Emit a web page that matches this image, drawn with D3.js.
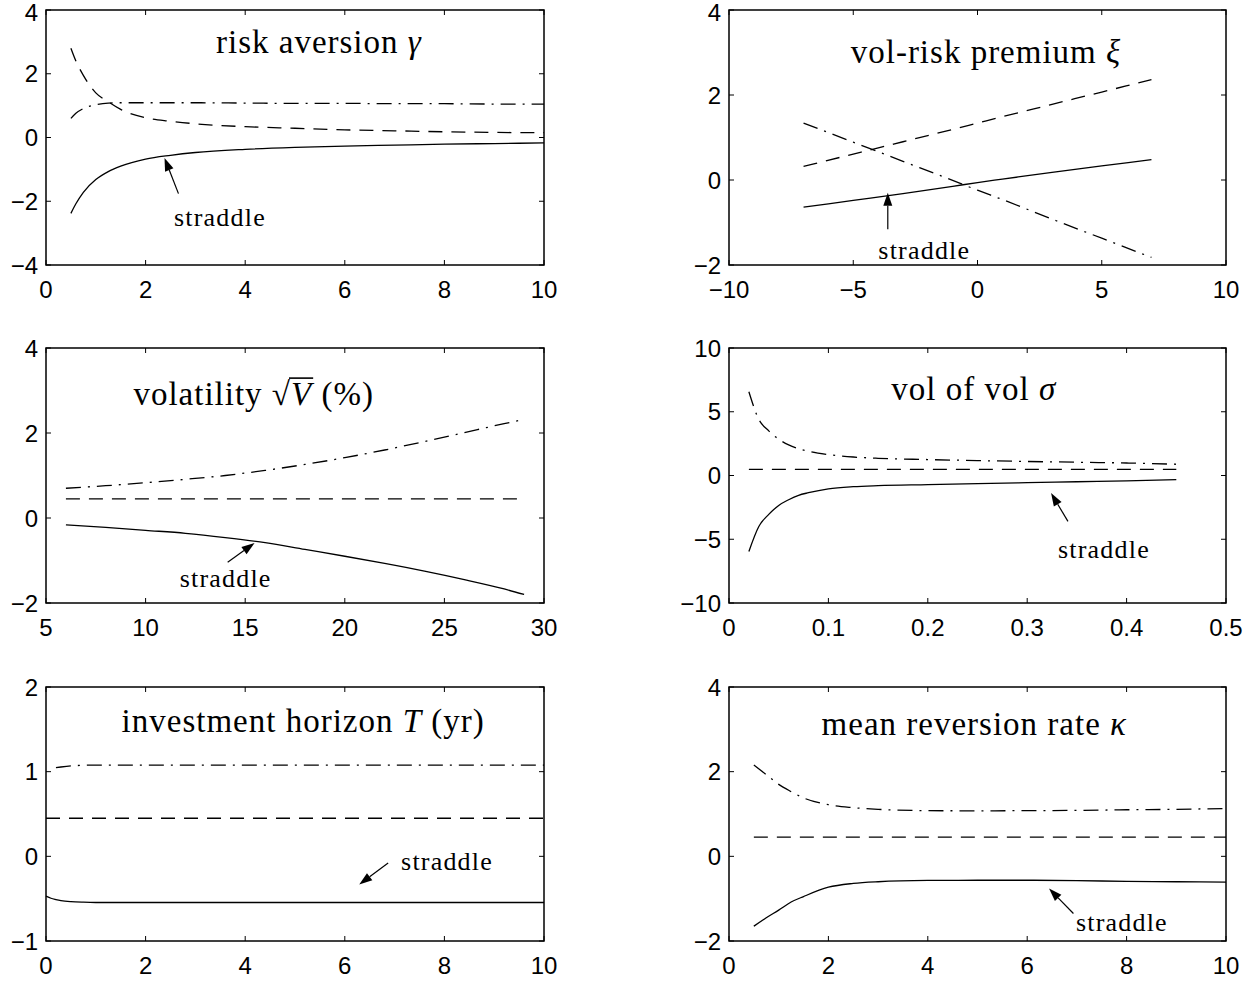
<!DOCTYPE html>
<html><head><meta charset="utf-8">
<script src="https://cdn.jsdelivr.net/npm/d3@7"></script>
<style>body{margin:0;background:#fff}svg{display:block}</style>
</head><body><svg id="c" width="1256" height="981"></svg>
<script>
// ---------- Panel 1: risk aversion gamma ----------
const p1X        = [0.5, 0.6, 0.75, 1, 1.25, 1.5, 2, 2.5, 3, 4, 5, 6, 7, 8, 9, 10];
const p1Straddle = [-2.38, -2.08, -1.72, -1.32, -1.07, -0.90, -0.68, -0.56, -0.47, -0.37, -0.31, -0.27, -0.24, -0.21, -0.19, -0.17];
const p1Dashed   = [2.80, 2.40, 1.95, 1.40, 1.12, 0.88, 0.62, 0.51, 0.43, 0.34, 0.29, 0.24, 0.21, 0.18, 0.16, 0.15];
const p1DashDot  = [0.60, 0.76, 0.91, 1.03, 1.08, 1.09, 1.09, 1.09, 1.09, 1.08, 1.07, 1.07, 1.06, 1.06, 1.05, 1.05];
const p1XTicks = [0, 2, 4, 6, 8, 10];
const p1YTicks = [-4, -2, 0, 2, 4];

// ---------- Panel 2: vol-risk premium xi ----------
const p2X        = [-7, -5, -3, -1, 0, 1, 3, 5, 7];
const p2Straddle = [-0.64, -0.48, -0.32, -0.15, -0.06, 0.02, 0.18, 0.33, 0.48];
const p2Dashed   = [0.32, 0.61, 0.90, 1.19, 1.34, 1.49, 1.78, 2.07, 2.36];
const p2DashDot  = [1.34, 0.89, 0.44, -0.01, -0.24, -0.46, -0.92, -1.37, -1.82];
const p2XTicks = [-10, -5, 0, 5, 10];
const p2YTicks = [-2, 0, 2, 4];

// ---------- Panel 3: volatility sqrt(V) (%) ----------
const p3X        = [6, 8, 10, 12, 14, 16, 18, 20, 22, 24, 26, 28, 29];
const p3Straddle = [-0.16, -0.22, -0.29, -0.36, -0.46, -0.58, -0.74, -0.90, -1.07, -1.25, -1.45, -1.67, -1.80];
const p3Dashed   = [0.45, 0.45, 0.45, 0.45, 0.45, 0.45, 0.45, 0.45, 0.45, 0.45, 0.45, 0.45, 0.45];
const p3DashDot  = [0.70, 0.76, 0.83, 0.91, 1.00, 1.12, 1.26, 1.42, 1.60, 1.80, 2.01, 2.22, 2.32];
const p3XTicks = [5, 10, 15, 20, 25, 30];
const p3YTicks = [-2, 0, 2, 4];

// ---------- Panel 4: vol of vol sigma ----------
const p4X        = [0.02, 0.03, 0.04, 0.05, 0.06, 0.07, 0.08, 0.1, 0.125, 0.15, 0.2, 0.25, 0.3, 0.35, 0.4, 0.45];
const p4Straddle = [-5.96, -4.0, -3.05, -2.35, -1.9, -1.55, -1.35, -1.05, -0.88, -0.80, -0.72, -0.64, -0.56, -0.49, -0.42, -0.33];
const p4Dashed   = [0.48, 0.48, 0.48, 0.48, 0.48, 0.48, 0.48, 0.48, 0.48, 0.48, 0.48, 0.48, 0.48, 0.48, 0.48, 0.48];
const p4DashDot  = [6.57, 4.4, 3.5, 2.85, 2.4, 2.1, 1.9, 1.64, 1.45, 1.35, 1.25, 1.17, 1.10, 1.04, 0.98, 0.88];
const p4XTicks = [0, 0.1, 0.2, 0.3, 0.4, 0.5];
const p4YTicks = [-10, -5, 0, 5, 10];

// ---------- Panel 5: investment horizon T (yr) ----------
const p5X         = [0, 0.1, 0.2, 0.3, 0.5, 0.75, 1, 2, 4, 6, 8, 10];
const p5Straddle  = [-0.47, -0.495, -0.51, -0.522, -0.535, -0.542, -0.545, -0.545, -0.545, -0.545, -0.545, -0.545];
const p5Dashed    = [0.45, 0.45, 0.45, 0.45, 0.45, 0.45, 0.45, 0.45, 0.45, 0.45, 0.45, 0.45];
const p5DashDotX  = [0.2, 0.3, 0.5, 0.75, 1, 2, 4, 6, 8, 10];
const p5DashDot   = [1.047, 1.055, 1.068, 1.075, 1.078, 1.078, 1.078, 1.078, 1.078, 1.078];
const p5XTicks = [0, 2, 4, 6, 8, 10];
const p5YTicks = [-1, 0, 1, 2];

// ---------- Panel 6: mean reversion rate kappa ----------
const p6X        = [0.5, 0.75, 1, 1.25, 1.5, 2, 2.5, 3, 4, 5, 6, 7, 8, 9, 10];
const p6Straddle = [-1.65, -1.45, -1.27, -1.08, -0.95, -0.73, -0.64, -0.60, -0.57, -0.565, -0.565, -0.575, -0.59, -0.60, -0.61];
const p6Dashed   = [0.455, 0.455, 0.455, 0.455, 0.455, 0.455, 0.455, 0.455, 0.455, 0.455, 0.455, 0.455, 0.455, 0.455, 0.455];
const p6DashDot  = [2.16, 1.93, 1.70, 1.53, 1.38, 1.22, 1.15, 1.11, 1.08, 1.075, 1.08, 1.085, 1.10, 1.11, 1.13];
const p6XTicks = [0, 2, 4, 6, 8, 10];
const p6YTicks = [-2, 0, 2, 4];

// annotation "straddle": [textX, textY, arrowTailX, arrowTailY, arrowTipX, arrowTipY] in data units
const p1Ann = [2.57, -2.78, 2.66, -1.76, 2.38, -0.64];
const p2Ann = [-3.99, -1.87, -3.61, -1.16, -3.61, -0.30];
const p3Ann = [11.71, -1.63, 14.12, -1.04, 15.47, -0.59];
const p4Ann = [0.331, -6.46, 0.341, -3.6, 0.324, -1.38];
const p5Ann = [7.13, -0.157, 6.87, -0.078, 6.29, -0.333];
const p6Ann = [6.98, -1.76, 6.93, -1.35, 6.44, -0.76];

// ---------- layout ----------
const LX = [46, 544], RX = [729, 1226];
const R1 = [10, 265], R2 = [348, 603], R3 = [687, 941];
const DASH = "14,9", DASHDOT = "15,7,2,7";

const panels = [
  {x: LX, y: R1, xDom: [0, 10], yDom: [-4, 4], xt: p1XTicks, yt: p1YTicks, fmt: d3.format("d"),
   series: [[p1X, p1Straddle, null], [p1X, p1Dashed, DASH], [p1X, p1DashDot, DASHDOT]],
   title: [["risk aversion ", false], ["γ", true]], tpos: [0.548, 0.169], ann: p1Ann},
  {x: RX, y: R1, xDom: [-10, 10], yDom: [-2, 4], xt: p2XTicks, yt: p2YTicks, fmt: d3.format("d"),
   series: [[p2X, p2Straddle, null], [p2X, p2Dashed, DASH], [p2X, p2DashDot, DASHDOT]],
   title: [["vol-risk premium ", false], ["ξ", true]], tpos: [0.517, 0.209], ann: p2Ann},
  {x: LX, y: R2, xDom: [5, 30], yDom: [-2, 4], xt: p3XTicks, yt: p3YTicks, fmt: d3.format("d"),
   series: [[p3X, p3Straddle, null], [p3X, p3Dashed, DASH], [p3X, p3DashDot, DASHDOT]],
   title: "sqrt", tpos: [0.417, 0.222], ann: p3Ann},
  {x: RX, y: R2, xDom: [0, 0.5], yDom: [-10, 10], xt: p4XTicks, yt: p4YTicks, fmt: d => d === 0 ? "0" : String(d),
   series: [[p4X, p4Straddle, null], [p4X, p4Dashed, DASH], [p4X, p4DashDot, DASHDOT]],
   title: [["vol of vol ", false], ["σ", true]], tpos: [0.4925, 0.204], ann: p4Ann},
  {x: LX, y: R3, xDom: [0, 10], yDom: [-1, 2], xt: p5XTicks, yt: p5YTicks, fmt: d3.format("d"),
   series: [[p5X, p5Straddle, null], [p5X, p5Dashed, DASH], [p5DashDotX, p5DashDot, DASHDOT]],
   title: [["investment horizon ", false], ["T", true], [" (yr)", false]], tpos: [0.5165, 0.176], ann: p5Ann},
  {x: RX, y: R3, xDom: [0, 10], yDom: [-2, 4], xt: p6XTicks, yt: p6YTicks, fmt: d3.format("d"),
   series: [[p6X, p6Straddle, null], [p6X, p6Dashed, DASH], [p6X, p6DashDot, DASHDOT]],
   title: [["mean reversion rate ", false], ["κ", true]], tpos: [0.4935, 0.19], ann: p6Ann}
];

const svg = d3.select("#c");
svg.append("rect").attr("width", 1256).attr("height", 981).attr("fill", "#fff");
const minus = s => String(s).replace("-", "\u2212");
const TICKFONT = "'Liberation Sans', Arial, Helvetica, sans-serif";
const SERIF = "'Liberation Serif', 'Times New Roman', serif";

panels.forEach(p => {
  const xs = d3.scaleLinear().domain(p.xDom).range(p.x);
  const ys = d3.scaleLinear().domain(p.yDom).range([p.y[1], p.y[0]]);
  const g = svg.append("g");
  const tl = 5;
  p.xt.forEach(v => {
    g.append("line").attr("x1", xs(v)).attr("x2", xs(v)).attr("y1", p.y[1]).attr("y2", p.y[1] - tl).attr("stroke", "#000").attr("stroke-width", 1);
    g.append("line").attr("x1", xs(v)).attr("x2", xs(v)).attr("y1", p.y[0]).attr("y2", p.y[0] + tl).attr("stroke", "#000").attr("stroke-width", 1);
    g.append("text").attr("x", xs(v)).attr("y", p.y[1] + 33).attr("text-anchor", "middle")
      .attr("font-family", TICKFONT).attr("font-size", 24).attr("fill", "#000").text(minus(p.fmt(v)));
  });
  p.yt.forEach(v => {
    g.append("line").attr("y1", ys(v)).attr("y2", ys(v)).attr("x1", p.x[0]).attr("x2", p.x[0] + tl).attr("stroke", "#000").attr("stroke-width", 1);
    g.append("line").attr("y1", ys(v)).attr("y2", ys(v)).attr("x1", p.x[1]).attr("x2", p.x[1] - tl).attr("stroke", "#000").attr("stroke-width", 1);
    g.append("text").attr("x", p.x[0] - 8).attr("y", Math.max(ys(v), 12)).attr("dy", "0.36em").attr("text-anchor", "end")
      .attr("font-family", TICKFONT).attr("font-size", 24).attr("fill", "#000").text(minus(d3.format("d")(v)));
  });
  g.append("rect").attr("x", p.x[0]).attr("y", p.y[0]).attr("width", p.x[1] - p.x[0]).attr("height", p.y[1] - p.y[0])
    .attr("fill", "none").attr("stroke", "#000").attr("stroke-width", 1.5);

  const line = d3.line().x(d => xs(d[0])).y(d => ys(d[1])).curve(d3.curveMonotoneX);
  p.series.forEach(([X, Y, dash]) => {
    const pts = X.map((x, i) => [x, Y[i]]);
    const path = g.append("path").attr("d", line(pts)).attr("fill", "none").attr("stroke", "#000").attr("stroke-width", 1.3);
    if (dash) path.attr("stroke-dasharray", dash);
  });

  const tx = p.x[0] + p.tpos[0] * (p.x[1] - p.x[0]);
  const ty = p.y[0] + p.tpos[1] * (p.y[1] - p.y[0]);
  if (p.title === "sqrt") {
    const t = g.append("text").attr("x", tx).attr("y", ty).attr("text-anchor", "middle")
      .attr("font-family", SERIF).attr("font-size", 33).attr("fill", "#000").style("letter-spacing", "1px");
    t.append("tspan").text("volatility ");
    t.append("tspan").text("√");
    t.append("tspan").attr("font-style", "italic").text("V");
    t.append("tspan").text(" (%)");
    const node = t.node();
    const full = "volatility √V (%)";
    const ir = full.indexOf("√"), iv = full.indexOf("V");
    const er = node.getExtentOfChar(ir), ev = node.getExtentOfChar(iv);
    g.append("line").attr("x1", er.x + er.width - 2).attr("x2", ev.x + ev.width + 1)
      .attr("y1", er.y + 2.5).attr("y2", er.y + 2.5).attr("stroke", "#000").attr("stroke-width", 1.6);
  } else {
    const t = g.append("text").attr("x", tx).attr("y", ty).attr("text-anchor", "middle")
      .attr("font-family", SERIF).attr("font-size", 33).attr("fill", "#000").style("letter-spacing", "1px");
    p.title.forEach(([s, it]) => t.append("tspan").attr("font-style", it ? "italic" : "normal").text(s));
  }

  const a = p.ann;
  g.append("text").attr("x", xs(a[0])).attr("y", ys(a[1])).attr("font-family", SERIF).attr("font-size", 26)
    .style("letter-spacing", "1.2px").attr("fill", "#000").text("straddle");
  const x1 = xs(a[2]), y1 = ys(a[3]), x2 = xs(a[4]), y2 = ys(a[5]);
  const ang = Math.atan2(y2 - y1, x2 - x1), hl = 13, hw = 4.5;
  const bx = x2 - hl * Math.cos(ang), by = y2 - hl * Math.sin(ang);
  g.append("line").attr("x1", x1).attr("y1", y1).attr("x2", bx).attr("y2", by).attr("stroke", "#000").attr("stroke-width", 1.2);
  const px = -Math.sin(ang), py = Math.cos(ang);
  g.append("path").attr("d", `M${x2},${y2}L${bx + hw * px},${by + hw * py}L${bx - hw * px},${by - hw * py}Z`).attr("fill", "#000");
});
</script>
</body></html>
